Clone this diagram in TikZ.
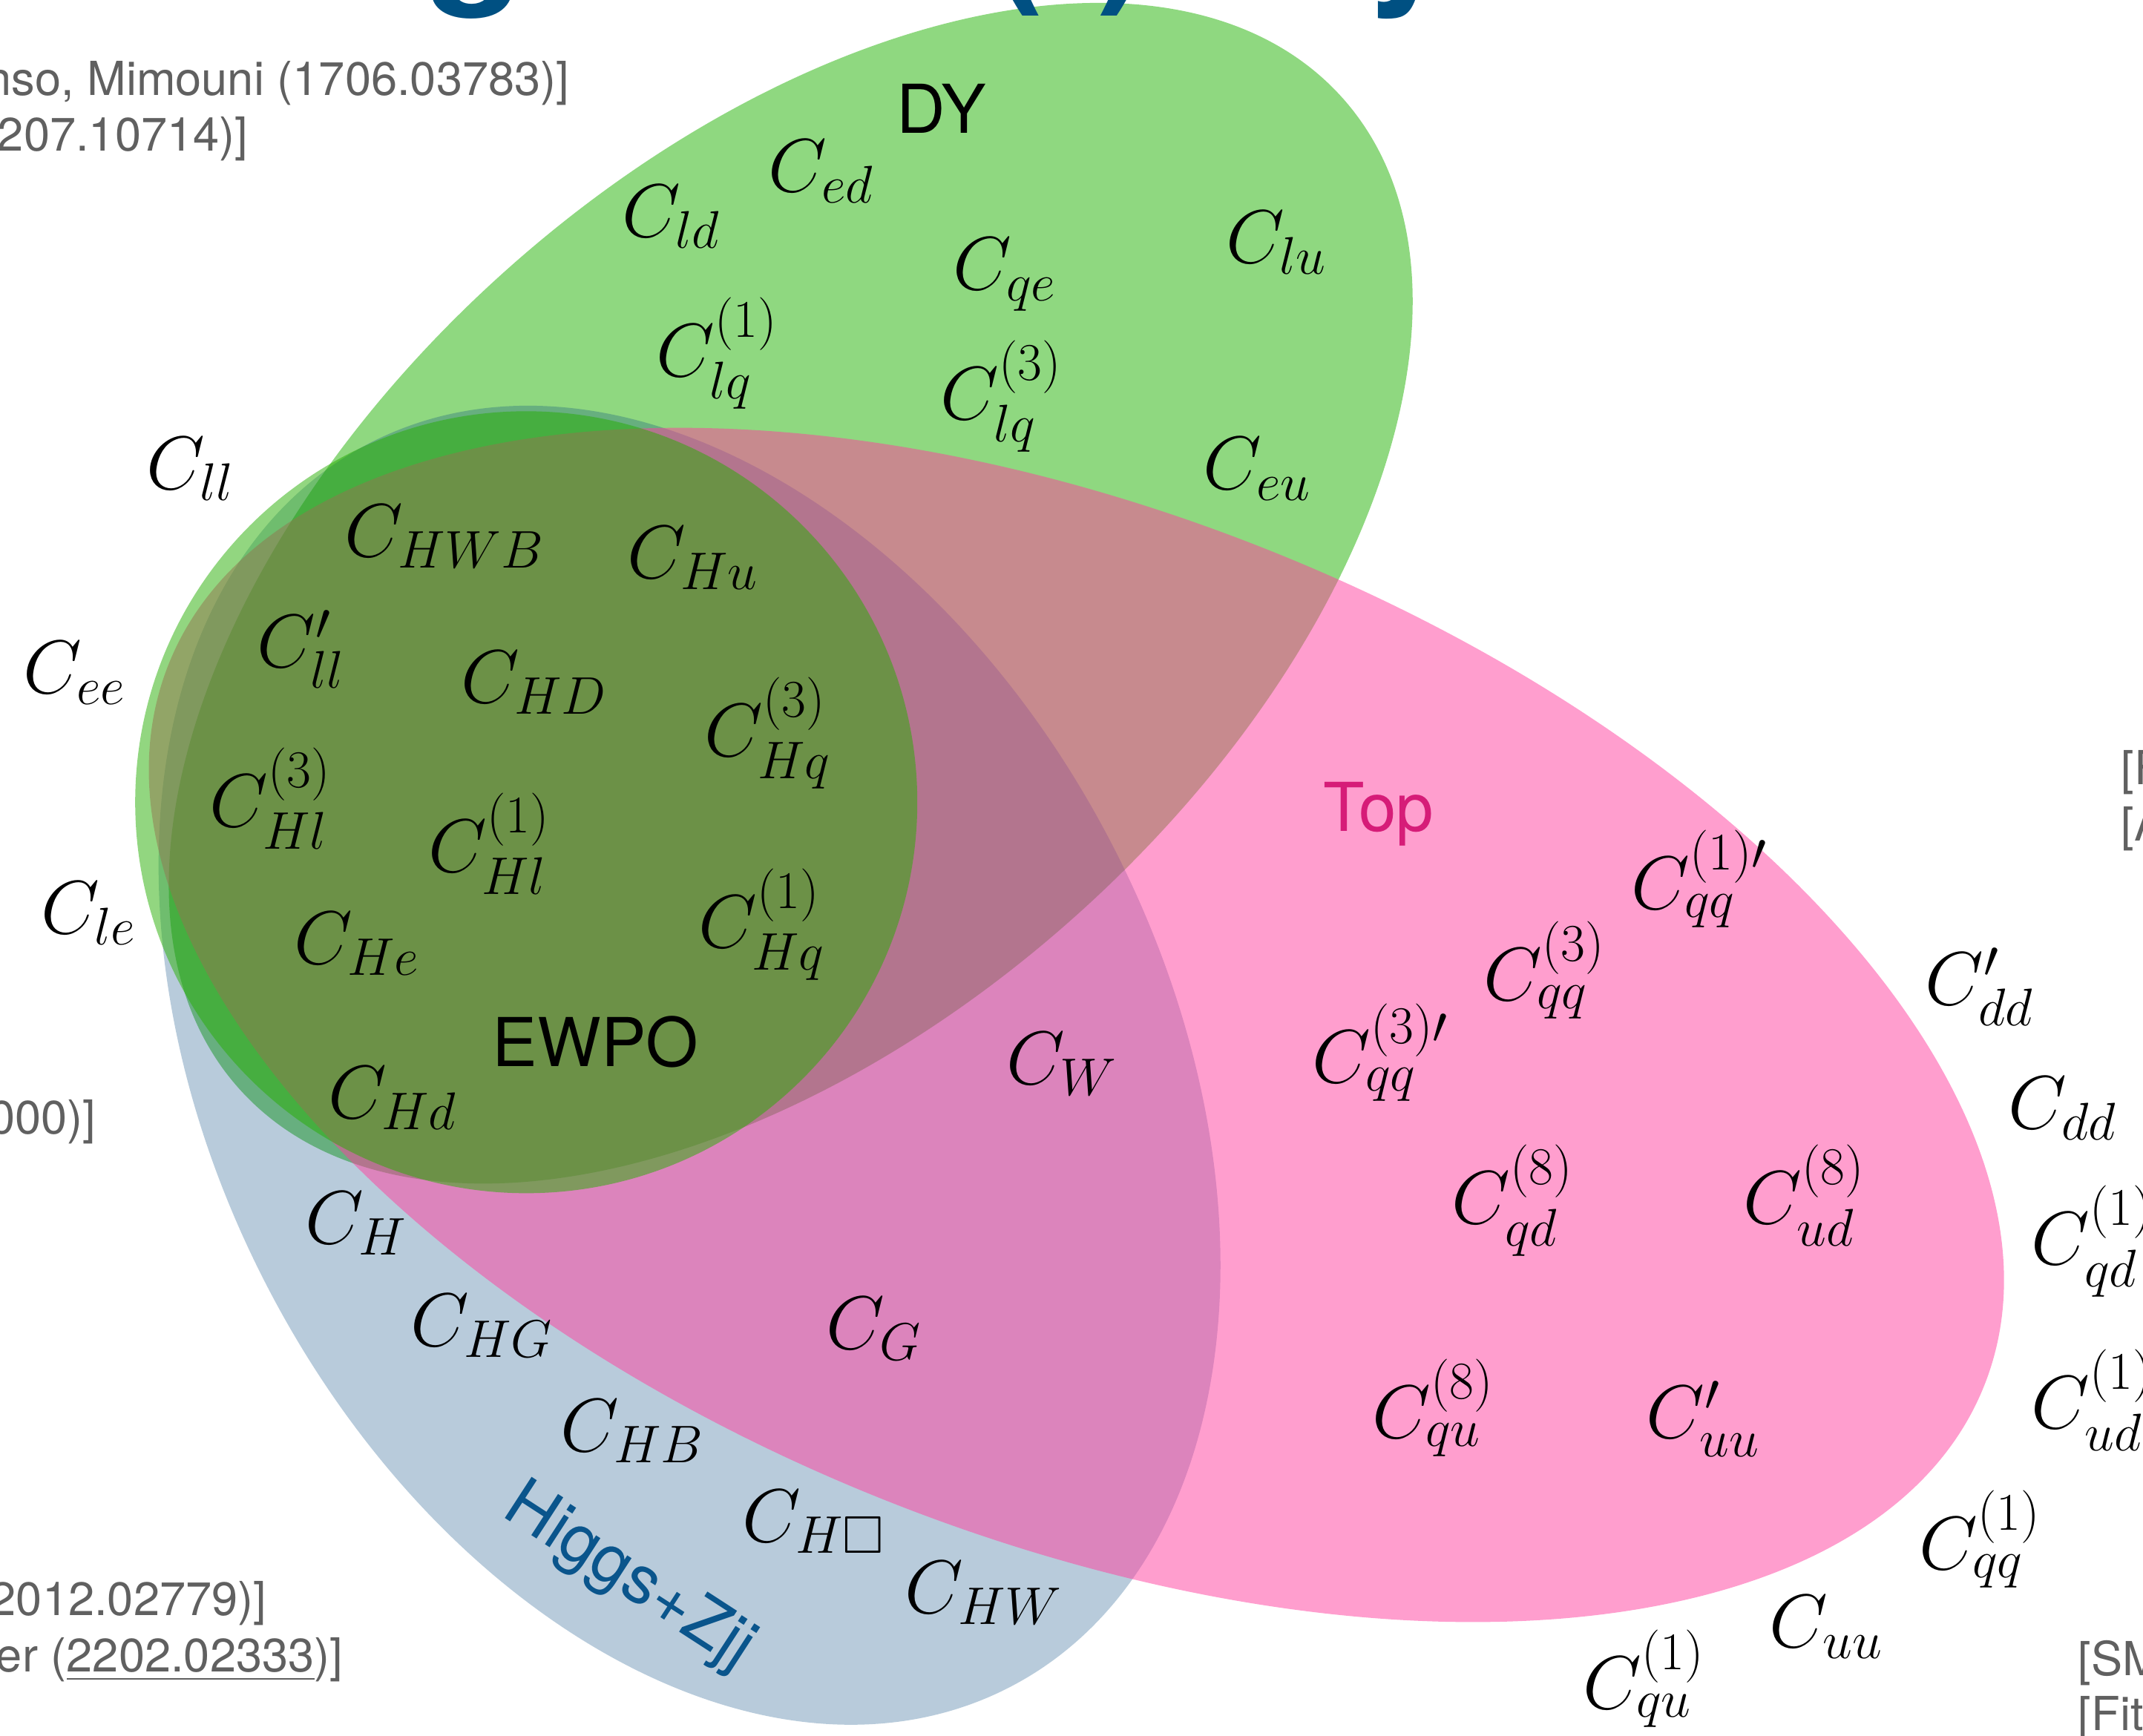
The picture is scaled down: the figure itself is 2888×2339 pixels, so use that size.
\RequirePackage{fix-cm}
\documentclass[tikz,border=0pt]{standalone}
\usepackage{amssymb}
\usepackage{fontspec}
\newfontfamily\hel{TeX Gyre Heros}
\definecolor{dyfill}{RGB}{143,216,128}
\definecolor{higgsfill}{RGB}{0,70,126}
\definecolor{topfill}{RGB}{255,61,157}
\definecolor{ewpofill}{RGB}{38,174,2}
\definecolor{refgray}{RGB}{96,96,96}
\definecolor{titleblue}{RGB}{0,80,130}
\definecolor{higgstext}{RGB}{10,85,140}
\definecolor{toptext}{RGB}{214,28,120}
\begin{document}
\begin{tikzpicture}[x=0.25pt,y=-0.25pt,
  lab/.style={anchor=base west, inner sep=0pt, font=\fontsize{25.5}{30}\selectfont},
  grp/.style={anchor=base west, inner sep=0pt, font=\hel\fontsize{22.7}{27}\selectfont},
  ref/.style={inner sep=0pt, text=refgray, font=\hel\fontsize{15.8}{19}\selectfont},
  ttl/.style={anchor=base, inner sep=0pt, text=titleblue, font=\hel\bfseries\fontsize{55}{60}\selectfont}]
\useasboundingbox (0,0) rectangle (2888,2339);
\clip (0,0) rectangle (2888,2339);

% sets of operators
\fill[dyfill, rotate around={42:(1065.6,799.6)}] (1065.6,799.6) ellipse [x radius=999.3, y radius=580.2];
\fill[higgsfill, fill opacity=0.28, rotate around={-62.85:(929.2,1435.8)}] (929.2,1435.8) ellipse [x radius=942.9, y radius=642.5];
\fill[topfill, fill opacity=0.5, rotate around={-21.65:(1450.6,1381.5)}] (1450.6,1381.5) ellipse [x radius=1316.5, y radius=690.5];
\fill[ewpofill, fill opacity=0.5] (709.2,1081.3) circle [radius=527];

% title (descenders only)
\node[ttl] (t1) at (640,-23) {g};
\node[ttl] (t2) at (1370,-23) {(};
\node[ttl] (t3) at (1515,-23) {)};
\node[ttl] (t4) at (1900,-23) {y};

% references
\node[ref, anchor=base east] (r1) at (768,128) {nso, Mimouni (1706.03783)]};
\node[ref, anchor=base east] (r2) at (335,203) {207.10714)]};
\node[ref, anchor=base east] (r3) at (130,1528) {000)]};
\node[ref, anchor=base east] (r4) at (360,2177) {2012.02779)]};
\node[ref, anchor=base east] (r5) at (463,2253) {per (\underline{2202.02333})]};
\node[ref, anchor=base west] (r6) at (2858,1057) {[F};
\node[ref, anchor=base west] (r7) at (2858,1133) {[A};
\node[ref, anchor=base west] (r8) at (2800,2258) {[SM};
\node[ref, anchor=base west] (r9) at (2800,2332) {[Fit};

% set names
\node[grp] (gdy) at (1208,179) {DY};
\node[grp, text=toptext] (gtop) at (1783,1120) {Top};
\node[grp] (gew) at (663,1437) {EWPO};
\node[grp, anchor=center, text=higgstext, rotate=-33] (ghz) at (847,2127) {Higgs+Zjj};

% Wilson coefficients
\node[lab] (ced) at (1035,258) {$C_{ed}$};
\node[lab] (cld) at (838,319) {$C_{ld}$};
\node[lab] (cqe) at (1284,390) {$C_{qe}$};
\node[lab] (clu) at (1652,354) {$C_{lu}$};
\node[lab] (clq1) at (884,507) {$C_{lq}^{(1)}$};
\node[lab] (clq3) at (1267,565) {$C_{lq}^{(3)}$};
\node[lab] (ceu) at (1621,659) {$C_{eu}$};
\node[lab] (cll) at (197,659) {$C_{ll}$};
\node[lab] (chwb) at (464,750) {$C_{HWB}$};
\node[lab] (chu) at (845,779) {$C_{Hu}$};
\node[lab] (cllp) at (346,899) {$C'_{ll}$};
\node[lab] (cee) at (31,934) {$C_{ee}$};
\node[lab] (chd) at (621,947) {$C_{HD}$};
\node[lab] (chq3) at (949,1019) {$C_{Hq}^{(3)}$};
\node[lab] (chl3) at (282,1114) {$C_{Hl}^{(3)}$};
\node[lab] (chl1) at (577,1175) {$C_{Hl}^{(1)}$};
\node[lab] (cle) at (55,1258) {$C_{le}$};
\node[lab] (che) at (396,1299) {$C_{He}$};
\node[lab] (chq1) at (941,1277) {$C_{Hq}^{(1)}$};
\node[lab] (cw) at (1356,1461) {$C_{W}$};
\node[lab] (chdd) at (442,1507) {$C_{Hd}$};
\node[lab] (ch) at (411,1676) {$C_{H}$};
\node[lab] (chg) at (553,1814) {$C_{HG}$};
\node[lab] (cg) at (1113,1818) {$C_{G}$};
\node[lab] (chb) at (755,1956) {$C_{HB}$};
\node[lab] (chbox) at (1000,2078) {$C_{H\Box}$};
\node[lab] (chw) at (1219,2174) {$C_{HW}$};
\node[lab] (cqq1p) at (2198,1225) {$C_{qq}^{(1)\prime}$};
\node[lab] (cqq3) at (1999,1348) {$C_{qq}^{(3)}$};
\node[lab] (cqq3p) at (1768,1459) {$C_{qq}^{(3)\prime}$};
\node[lab] (cddp) at (2594,1354) {$C'_{dd}$};
\node[lab] (cdd) at (2706,1521) {$C_{dd}$};
\node[lab] (cqd8) at (1956,1649) {$C_{qd}^{(8)}$};
\node[lab] (cud8) at (2349,1649) {$C_{ud}^{(8)}$};
\node[lab] (cqd1) at (2737,1704) {$C_{qd}^{(1)}$};
\node[lab] (cud1) at (2737,1925) {$C_{ud}^{(1)}$};
\node[lab] (cqu8) at (1849,1938) {$C_{qu}^{(8)}$};
\node[lab] (cuup) at (2218,1938) {$C'_{uu}$};
\node[lab] (cqq1) at (2586,2115) {$C_{qq}^{(1)}$};
\node[lab] (cuu) at (2384,2220) {$C_{uu}$};
\node[lab] (cqu1) at (2133,2303) {$C_{qu}^{(1)}$};
\end{tikzpicture}
\end{document}
